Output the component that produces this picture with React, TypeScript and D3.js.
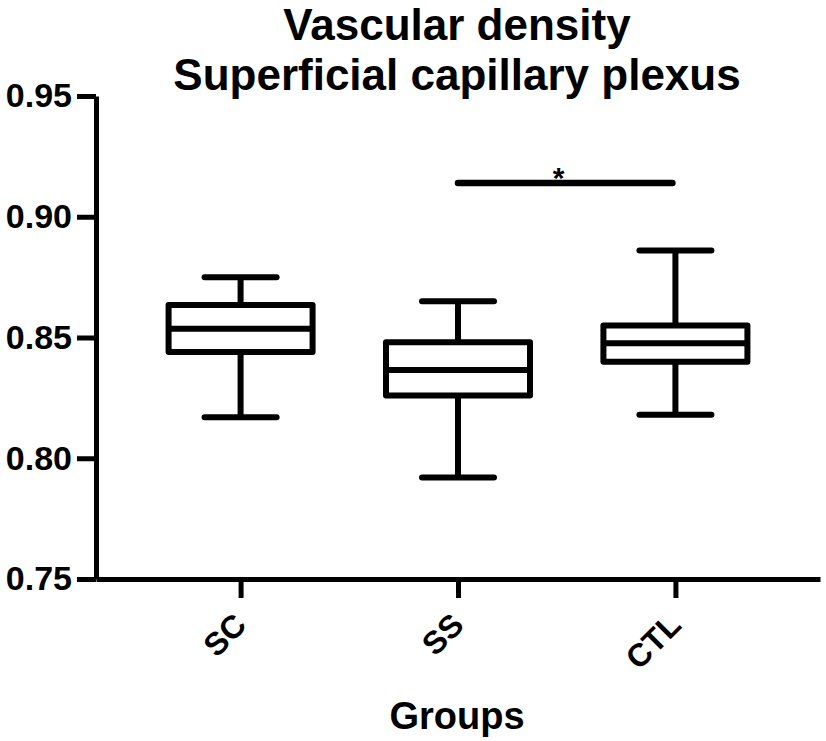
import React, { useEffect, useRef } from "react";
import * as d3 from "d3";

const categories = ["SC", "SS", "CTL"];
const whiskerLow = [0.817, 0.792, 0.818];
const q1 = [0.844, 0.826, 0.84];
const median = [0.8536, 0.8365, 0.8476];
const q3 = [0.8635, 0.848, 0.855];
const whiskerHigh = [0.875, 0.865, 0.886];

const yTicks = [0.75, 0.8, 0.85, 0.9, 0.95];
const yDomain = [0.75, 0.95];
const titleLines = ["Vascular density", "Superficial capillary plexus"];
const xLabel = "Groups";
const sigFrom = "SS";
const sigTo = "CTL";
const sigValue = 0.914;
const sigLabel = "*";

export default function App() {
  const ref = useRef<SVGSVGElement>(null);

  useEffect(() => {
    const svg = d3.select(ref.current);
    svg.selectAll("*").remove();
    const W = 826;
    const H = 741;
    const left = 96;
    const right = 820;
    const top = 96;
    const bottom = 579;
    const font = "'Liberation Sans', Arial, Helvetica, sans-serif";

    const x = d3.scalePoint<string>().domain(categories).range([left, right]).padding(0.665);
    const y = d3.scaleLinear().domain(yDomain).range([bottom, top]);

    svg.append("rect").attr("width", W).attr("height", H).attr("fill", "#fff");

    // Title
    const t = svg
      .append("text")
      .attr("text-anchor", "middle")
      .attr("font-family", font)
      .attr("font-weight", "bold")
      .attr("font-size", 44)
      .attr("fill", "#000");
    titleLines.forEach((l, i) => {
      t.append("tspan").attr("x", 457).attr("y", 40 + i * 50).text(l);
    });

    // Y axis
    const ya = svg
      .append("g")
      .attr("transform", `translate(${left},0)`)
      .call(
        d3
          .axisLeft(y)
          .tickValues(yTicks)
          .tickFormat(d3.format(".2f"))
          .tickSizeOuter(0)
          .tickSizeInner(19)
          .tickPadding(5)
      );
    ya.select(".domain").attr("stroke", "#000").attr("stroke-width", 5);
    ya.selectAll(".tick line").attr("stroke", "#000").attr("stroke-width", 5);
    ya.selectAll(".tick text")
      .attr("font-size", 34)
      .attr("font-weight", "bold")
      .attr("font-family", font)
      .attr("fill", "#000");

    // X axis
    const xa = svg
      .append("g")
      .attr("transform", `translate(0,${bottom})`)
      .call(d3.axisBottom(x).tickSizeOuter(0).tickSizeInner(19));
    xa.select(".domain").attr("stroke", "#000").attr("stroke-width", 5);
    xa.selectAll(".tick line").attr("stroke", "#000").attr("stroke-width", 5);
    xa.selectAll(".tick text")
      .attr("font-size", 32)
      .attr("font-weight", "bold")
      .attr("font-family", font)
      .attr("fill", "#000")
      .attr("text-anchor", "end")
      .attr("x", 0)
      .attr("y", 0)
      .attr("dy", 0)
      .attr("transform", "translate(7,48) rotate(-45)");

    // X label
    svg
      .append("text")
      .attr("x", 457)
      .attr("y", 729)
      .attr("text-anchor", "middle")
      .attr("font-family", font)
      .attr("font-weight", "bold")
      .attr("font-size", 38)
      .attr("fill", "#000")
      .text(xLabel);

    // Boxes
    const boxW = 144;
    const sw = 6;
    const g = svg.append("g").attr("stroke", "#000").attr("stroke-width", sw).attr("fill", "none");
    categories.forEach((c, i) => {
      const cx = x(c) as number;
      const gg = g.append("g");
      gg.append("line").attr("x1", cx).attr("x2", cx).attr("y1", y(whiskerHigh[i])).attr("y2", y(q3[i]));
      gg.append("line").attr("x1", cx).attr("x2", cx).attr("y1", y(q1[i])).attr("y2", y(whiskerLow[i]));
      gg.append("line")
        .attr("x1", cx - boxW / 4)
        .attr("x2", cx + boxW / 4)
        .attr("y1", y(whiskerHigh[i]))
        .attr("y2", y(whiskerHigh[i]))
        .attr("stroke-linecap", "round");
      gg.append("line")
        .attr("x1", cx - boxW / 4)
        .attr("x2", cx + boxW / 4)
        .attr("y1", y(whiskerLow[i]))
        .attr("y2", y(whiskerLow[i]))
        .attr("stroke-linecap", "round");
      gg.append("rect")
        .attr("x", cx - boxW / 2)
        .attr("y", y(q3[i]))
        .attr("width", boxW)
        .attr("height", y(q1[i]) - y(q3[i]))
        .attr("fill", "#fff")
        .attr("stroke-linejoin", "round");
      gg.append("line")
        .attr("x1", cx - boxW / 2)
        .attr("x2", cx + boxW / 2)
        .attr("y1", y(median[i]))
        .attr("y2", y(median[i]));
    });

    // Significance bar
    const sx1 = x(sigFrom) as number;
    const sx2 = x(sigTo) as number;
    const sy = y(sigValue);
    svg
      .append("line")
      .attr("x1", sx1)
      .attr("x2", sx2 - 3)
      .attr("y1", sy)
      .attr("y2", sy)
      .attr("stroke", "#000")
      .attr("stroke-width", 6.5)
      .attr("stroke-linecap", "round");
    svg
      .append("text")
      .attr("x", (sx1 + sx2) / 2 - 8)
      .attr("y", sy + 5)
      .attr("text-anchor", "middle")
      .attr("font-family", font)
      .attr("font-weight", "bold")
      .attr("font-size", 30)
      .attr("fill", "#000")
      .text(sigLabel);
  }, []);

  return (
    <svg
      ref={ref}
      width={826}
      height={741}
      style={{ position: "absolute", left: 0, top: 0, display: "block" }}
    />
  );
}
